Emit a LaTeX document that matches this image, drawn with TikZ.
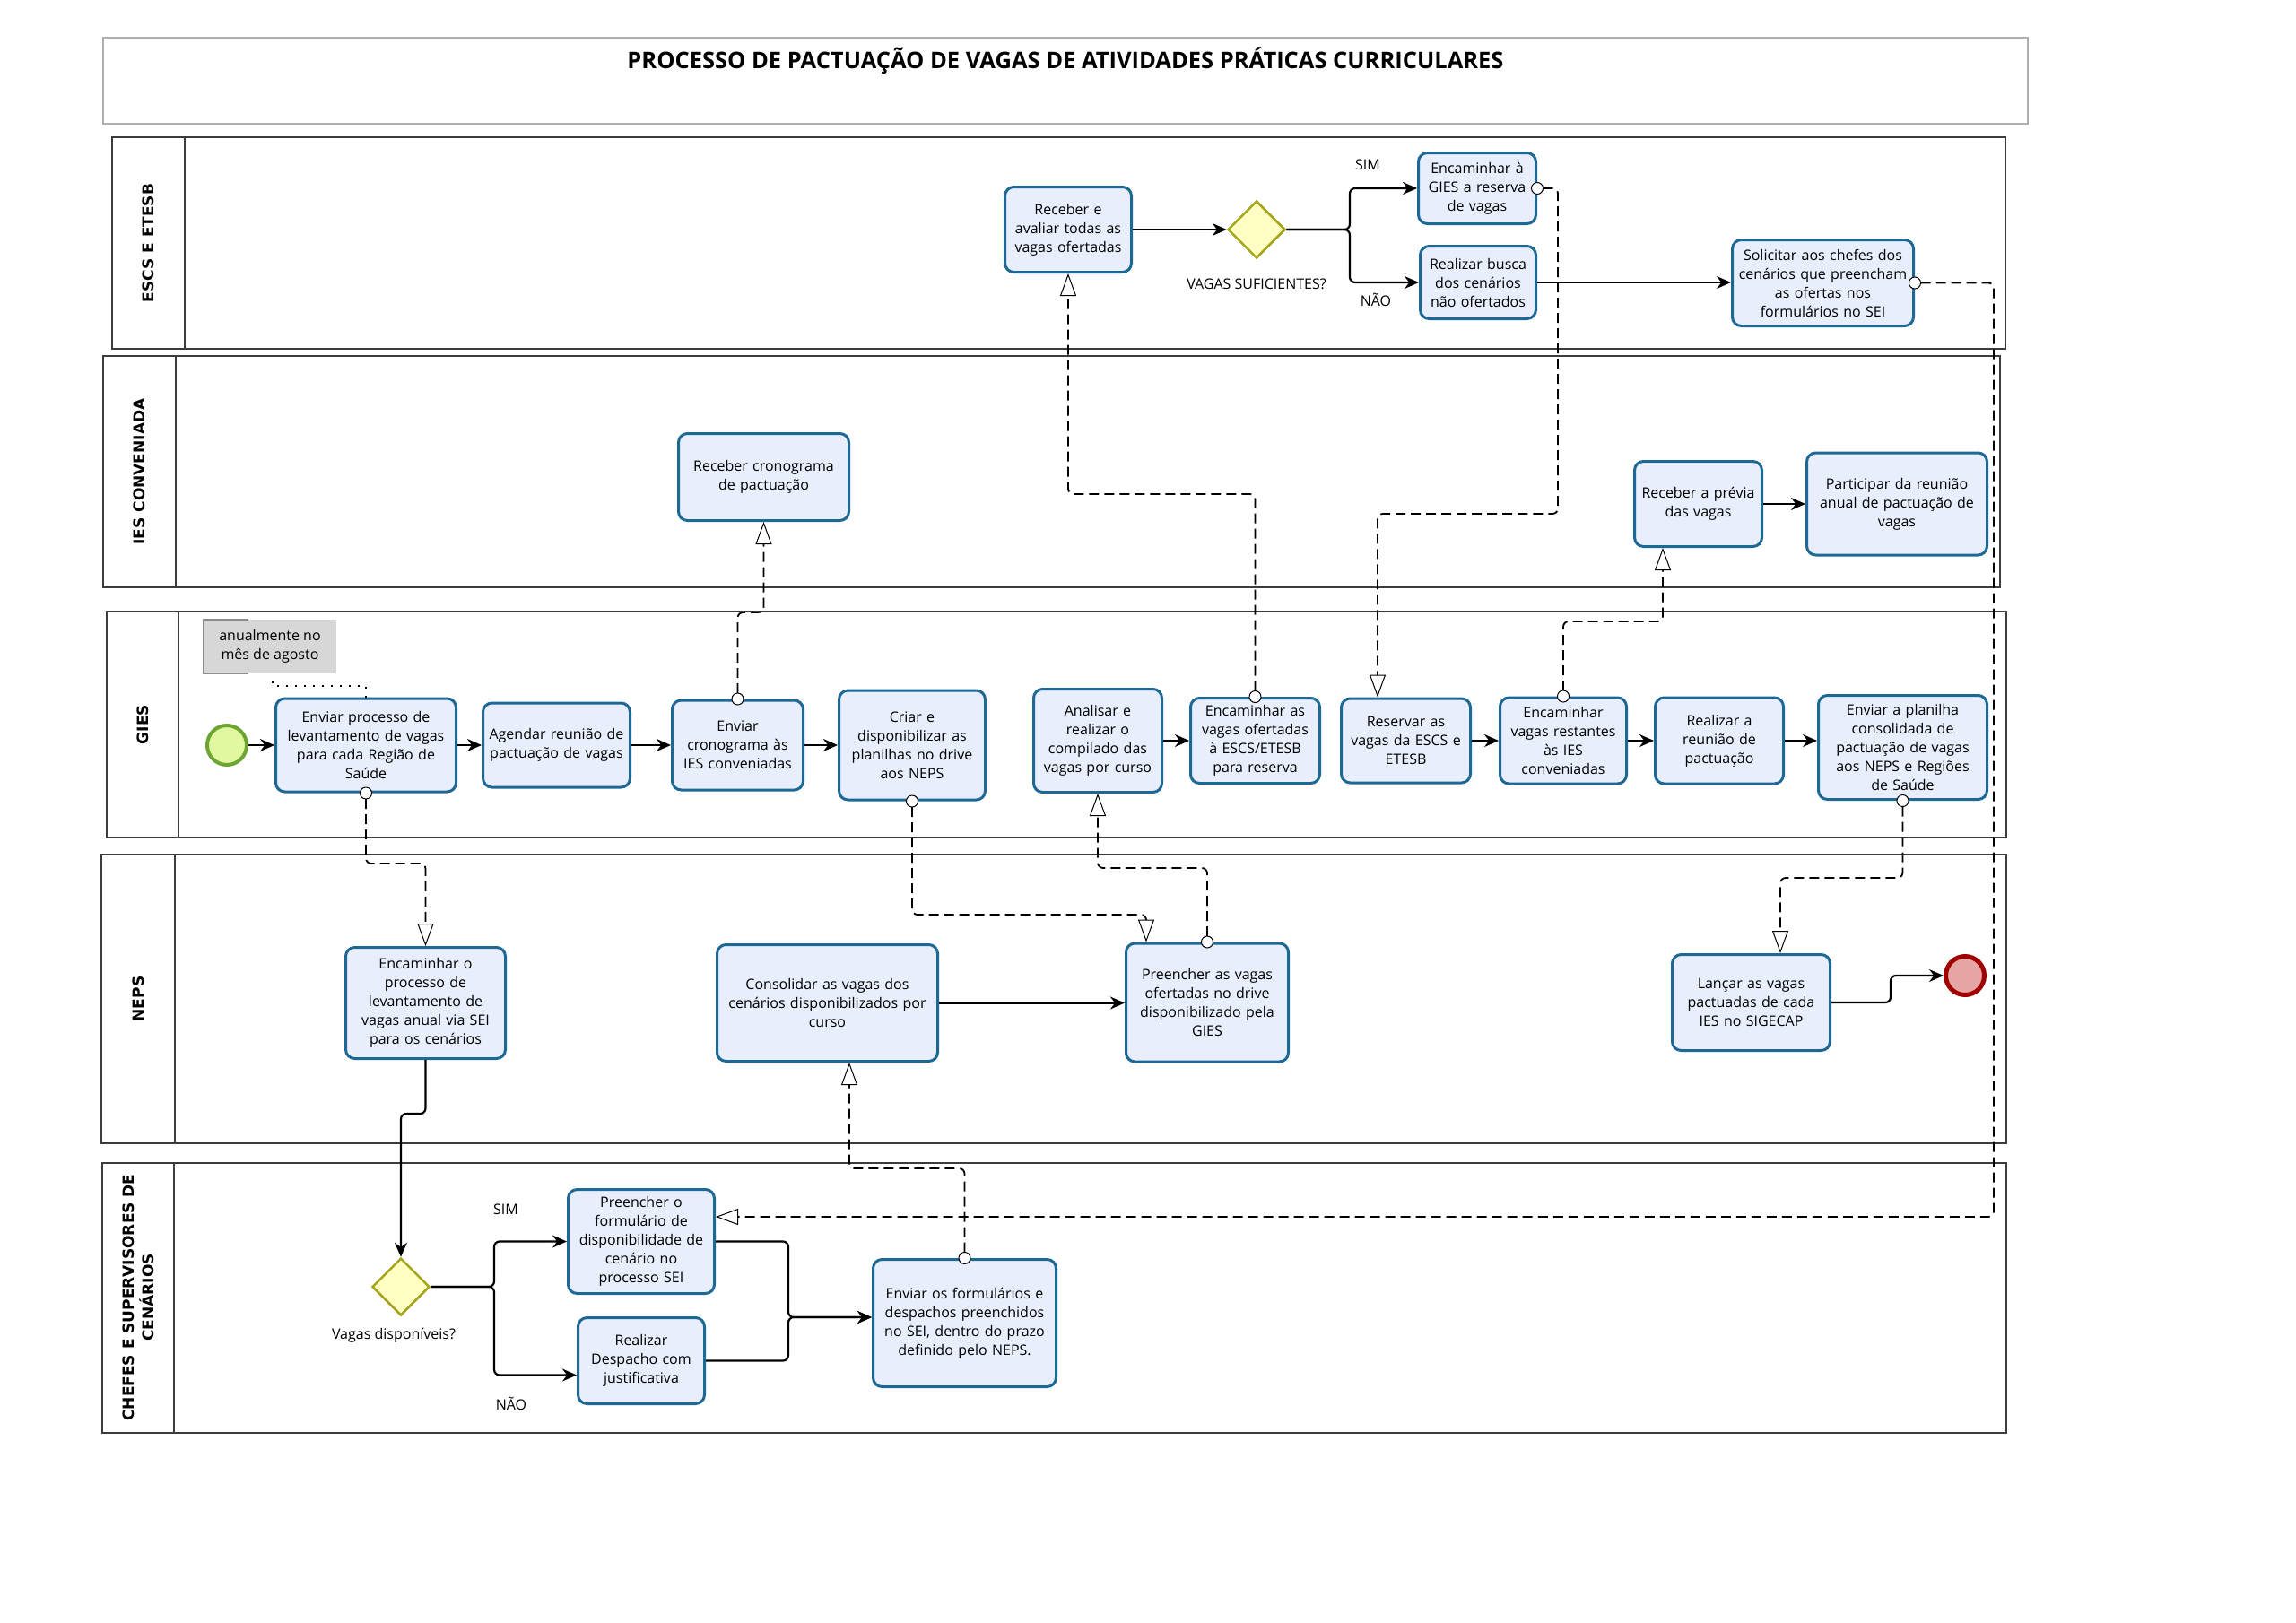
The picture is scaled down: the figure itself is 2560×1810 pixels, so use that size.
\documentclass[tikz,border=0pt]{standalone}
\usepackage{fontspec}
\setmainfont{Open Sans}
\newfontfamily\lanefont{DejaVu Sans}
\usetikzlibrary{arrows.meta,shapes.geometric,calc}
\definecolor{taskfill}{RGB}{232,238,252}
\definecolor{taskline}{RGB}{30,104,150}
\definecolor{gwfill}{RGB}{255,255,196}
\definecolor{gwline}{RGB}{165,165,30}
\definecolor{startfill}{RGB}{226,248,160}
\definecolor{startline}{RGB}{108,165,50}
\definecolor{endfill}{RGB}{232,165,165}
\definecolor{endline}{RGB}{160,0,0}
\definecolor{laneline}{RGB}{60,60,60}
\definecolor{titleline}{RGB}{175,175,175}
\definecolor{notefill}{RGB}{215,215,215}
\definecolor{notebar}{RGB}{140,140,140}
\begin{document}
\begin{tikzpicture}[x=1pt,y=-1pt,
  task/.style={draw=taskline, line width=3pt, fill=taskfill, rounded corners=10pt, align=center, inner sep=4pt, font=\fontsize{16}{21}\selectfont},
  gw/.style={diamond, aspect=1, draw=gwline, fill=gwfill, line width=2.5pt, minimum size=64pt, inner sep=0pt},
  startev/.style={circle, draw=startline, fill=startfill, line width=4pt, minimum size=44pt, inner sep=0pt},
  endev/.style={circle, draw=endline, fill=endfill, line width=5pt, minimum size=43pt, inner sep=0pt},
  lane/.style={draw=laneline, line width=1.8pt},
  lanelabel/.style={rotate=90, align=center, font=\lanefont\bfseries\fontsize{17}{22}\selectfont},
  lbl/.style={inner sep=0pt, font=\fontsize{16}{20}\selectfont},
  seq/.style={draw=black, line width=2.2pt, rounded corners=6pt, -{Stealth[length=16pt,width=14pt]}},
  msg/.style={draw=black, line width=1.8pt, dash pattern=on 11pt off 6pt, rounded corners=6pt,
    {Circle[length=14pt,fill=white,line width=1pt]}-{Triangle[length=25pt,width=18pt,fill=white,line width=1pt]},
    shorten <=-7pt},
  assoc/.style={draw=black, line width=2pt, dash pattern=on 2pt off 8pt}
]
\useasboundingbox (0,0) rectangle (2560,1810);

% title
\draw[draw=titleline, line width=2pt] (115,42) rectangle (2261,138);
\node[inner sep=0pt, font=\bfseries\fontsize{25.5}{30}\selectfont] (title) at (1188,68) {PROCESSO DE PACTUAÇÃO DE VAGAS DE ATIVIDADES PRÁTICAS CURRICULARES};

% lanes
\draw[lane] (125,153) rectangle (2236,389); \draw[lane] (206,153) -- (206,389);
\draw[lane] (115,397) rectangle (2230,655); \draw[lane] (196,397) -- (196,655);
\draw[lane] (119,682) rectangle (2237,934); \draw[lane] (199,682) -- (199,934);
\draw[lane] (113,953) rectangle (2237,1275); \draw[lane] (195,953) -- (195,1275);
\draw[lane] (114,1297) rectangle (2237,1598); \draw[lane] (194,1297) -- (194,1598);
\node[lanelabel] (L1) at (165.5,271) {ESCS E ETESB};
\node[lanelabel] (L2) at (155.5,526) {IES CONVENIADA};
\node[lanelabel] (L3) at (159,808) {GIES};
\node[lanelabel] (L4) at (154,1114) {NEPS};
\node[lanelabel] (L5) at (154,1447) {CHEFES E SUPERVISORES DE\\CENÁRIOS};

% ESCS E ETESB
\node[task, text width=133pt, minimum height=95pt] (e1) at (1191,256) {Receber e\\avaliar todas as\\vagas ofertadas};
\node[gw] (d1) at (1401,256) {};
\node[task, text width=123pt, minimum height=79pt] (e2) at (1647,210) {Encaminhar à\\GIES a reserva\\de vagas};
\node[task, text width=121pt, minimum height=81pt] (e3) at (1648,315) {Realizar busca\\dos cenários\\não ofertados};
\node[task, text width=194pt, minimum height=96pt] (e4) at (2032.5,315.5) {Solicitar aos chefes dos\\cenários que preencham\\as ofertas nos\\formulários no SEI};
\node[lbl] (sim1) at (1525,184) {SIM};
\node[lbl] (nao1) at (1534,334) {NÃO};
\node[lbl] (q1) at (1401,317) {VAGAS SUFICIENTES?};

% IES CONVENIADA
\node[task, text width=182pt, minimum height=97pt] (i1) at (851.5,532) {Receber cronograma\\de pactuação};
\node[task, text width=134pt, minimum height=95pt] (i2) at (1893.5,562) {Receber a prévia\\das vagas};
\node[task, text width=193pt, minimum height=114pt] (i3) at (2115,562) {Participar da reunião\\anual de pactuação de\\vagas};

% GIES
\node[fill=notefill, minimum width=148pt, minimum height=60pt, inner sep=0pt, align=center, font=\fontsize{16}{21}\selectfont] (note) at (301,721) {anualmente no\\mês de agosto};
\draw[draw=notebar, line width=2pt] ([xshift=50pt]note.north west) -- (note.north west) -- (note.south west) -- ([xshift=50pt]note.south west);
\node[startev] (start) at (253,831) {};
\node[task, text width=193pt, minimum height=104pt] (t1) at (408,831) {Enviar processo de\\levantamento de vagas\\para cada Região de\\Saúde};
\node[task, text width=156pt, minimum height=94pt] (t2) at (620.5,831) {Agendar reunião de\\pactuação de vagas};
\node[task, text width=138pt, minimum height=100pt] (t3) at (822.5,831) {Enviar\\cronograma às\\IES conveniadas};
\node[task, text width=155pt, minimum height=122pt] (t4) at (1017,831) {Criar e\\disponibilizar as\\planilhas no drive\\aos NEPS};
\node[task, text width=135pt, minimum height=115pt] (t5) at (1224,826) {Analisar e\\realizar o\\compilado das\\vagas por curso};
\node[task, text width=136pt, minimum height=95pt] (t6) at (1399.5,826) {Encaminhar as\\vagas ofertadas\\à ESCS/ETESB\\para reserva};
\node[task, text width=136pt, minimum height=94pt] (t7) at (1567.5,826) {Reservar as\\vagas da ESCS e\\ETESB};
\node[task, text width=133pt, minimum height=96pt] (t8) at (1743,826) {Encaminhar\\vagas restantes\\às IES\\conveniadas};
\node[task, text width=135pt, minimum height=96pt] (t9) at (1917,826) {Realizar a\\reunião de\\pactuação};
\node[task, text width=180pt, minimum height=116pt] (t10) at (2121.5,833.5) {Enviar a planilha\\consolidada de\\pactuação de vagas\\aos NEPS e Regiões\\de Saúde};

% NEPS
\node[task, text width=170pt, minimum height=124pt] (n1) at (474.5,1118.5) {Encaminhar o\\processo de\\levantamento de\\vagas anual via SEI\\para os cenários};
\node[task, text width=238pt, minimum height=130pt] (n2) at (922.5,1118.5) {Consolidar as vagas dos\\cenários disponibilizados por\\curso};
\node[task, text width=173pt, minimum height=132pt] (n3) at (1346,1118) {Preencher as vagas\\ofertadas no drive\\disponibilizado pela\\GIES};
\node[task, text width=168pt, minimum height=107pt] (n4) at (1952.5,1118) {Lançar as vagas\\pactuadas de cada\\IES no SIGECAP};
\node[endev] (end) at (2191,1088) {};

% CHEFES E SUPERVISORES DE CENARIOS
\node[gw] (d2) at (447,1435) {};
\node[task, text width=155pt, minimum height=116pt] (c1) at (715,1384.5) {Preencher o\\formulário de\\disponibilidade de\\cenário no\\processo SEI};
\node[task, text width=133pt, minimum height=96pt] (c2) at (715,1517.5) {Realizar\\Despacho com\\justificativa};
\node[task, text width=196pt, minimum height=142pt] (c3) at (1075.5,1475.5) {Enviar os formulários e\\despachos preenchidos\\no SEI, dentro do prazo\\definido pelo NEPS.};
\node[lbl] (sim2) at (564,1349) {SIM};
\node[lbl] (nao2) at (570,1565) {NÃO};
\node[lbl] (q2) at (439,1489) {Vagas disponíveis?};

% sequence flows
\draw[seq] (start.east) -- (t1.west);
\draw[seq] (t1.east) -- (t2.west);
\draw[seq] (t2.east) -- (t3.west);
\draw[seq] (t3.east) -- (t4.west);
\draw[seq] (t5.east) -- (t6.west);
\draw[seq] (t7.east) -- (t8.west);
\draw[seq] (t8.east) -- (t9.west);
\draw[seq] (t9.east) -- (t9.east -| t10.west);
\draw[seq] (e1.east) -- (d1.west);
\draw[seq] (d1.east) -- (1505,256) |- (e2.west);
\draw[seq] (d1.east) -- (1505,256) |- (e3.west);
\draw[seq] (e3.east) -- (e3.east -| e4.west);
\draw[seq] (i2.east) -- (i2.east -| i3.west);
\draw[seq] (n2.east) -- (n2.east -| n3.west);
\draw[seq] (n4.east) -- (2108,1118) |- (end.west);
\draw[seq] (n1.south) -- (474.5,1242) -| (d2.north);
\draw[seq] (d2.east) -- (551,1435) |- (c1.west);
\draw[seq] (d2.east) -- (551,1435) |- ([yshift=-16pt]c2.west);
\draw[seq] (c1.east) -- (879,1384.5) |- ([yshift=6.5pt]c3.west);
\draw[seq] (c2.east) -- (879,1517.5) |- ([yshift=6.5pt]c3.west);

% message flows
\draw[msg] (t1.south) -- (408,963) -| (n1.north);
\draw[msg] (t3.north) -- (822.5,683) -| (i1.south);
\draw[msg] (t4.south) -- (1017,1020) -| ([xshift=-68pt]n3.north);
\draw[msg] (n3.north) -- (1346,968) -| (t5.south);
\draw[msg] (t6.north) -- (1399.5,551) -| (e1.south);
\draw[msg] (e2.east) -- (1737,210) -- (1737,573) -| ([xshift=-31.5pt]t7.north);
\draw[msg] (t8.north) -- (1743,693) -| ([xshift=-39.5pt]i2.south);
\draw[msg] (t10.south) -- (2121.5,979) -| ([xshift=32.5pt]n4.north);
\draw[msg] (e4.east) -- (2223,315.5) -- (2223,1357) -- (c1.east |- 0,1357);
\draw[msg] (c3.north) -- (1075.5,1303) -| ([xshift=24.5pt]n2.south);

% association
\draw[assoc] (304,760) -- (304,765) -| (t1.north);
\end{tikzpicture}
\end{document}
